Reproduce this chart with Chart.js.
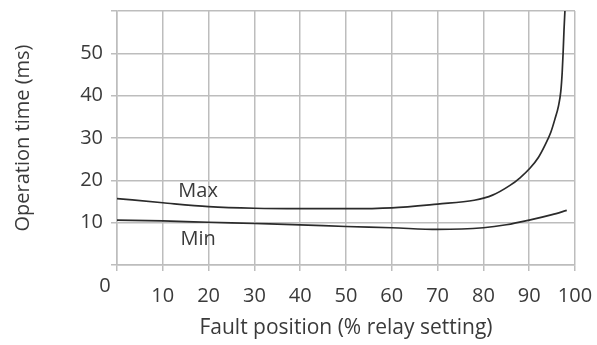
<!DOCTYPE html>
<html>
<head>
<meta charset="utf-8">
<script src="https://cdn.jsdelivr.net/npm/chart.js@4"></script>
<style>
  html, body { margin: 0; padding: 0; background: #ffffff; }
  #wrap { width: 597px; height: 345px; }
</style>
</head>
<body>
<div id="wrap"><canvas id="c" width="597" height="345"></canvas></div>
<script>
// ---- data ----
const maxX = [0, 10, 20, 30, 40, 50, 60, 70, 78, 82, 85.8, 88, 90.2, 92, 93.4, 94.7, 95.6, 96.4, 96.9, 97.2, 97.4, 97.6, 97.8];
const maxY = [15.7, 14.7, 13.8, 13.4, 13.3, 13.3, 13.5, 14.4, 15.3, 16.5, 18.8, 20.6, 22.9, 25.4, 28.2, 31.3, 34.4, 37.6, 41.0, 45.4, 50, 55.5, 60];
const minX = [0, 10, 20, 30, 40, 50, 60, 70, 80, 85, 90, 95, 98.2];
const minY = [10.6, 10.4, 10.1, 9.8, 9.5, 9.1, 8.8, 8.4, 8.8, 9.5, 10.6, 11.9, 12.9];
const seriesNames = ['Max', 'Min'];
const xTickValues = [0, 10, 20, 30, 40, 50, 60, 70, 80, 90, 100];
const yTickValues = [0, 10, 20, 30, 40, 50, 60];
const xTitle = 'Fault position (% relay setting)';
const yTitle = 'Operation time (ms)';
const cornerLabel = '0';
const annotations = [
  { text: 'Max', x: 17.7, y: 17.4 },
  { text: 'Min', x: 17.7, y: 6.1 }
];

const FONT = '"Open Sans", "DejaVu Sans", sans-serif';
const TEXT = '#3a3a3a';
const GRID = '#bdbdbd';
const LINE = '#2b2b2b';

const toPts = (xs, ys) => xs.map((x, i) => ({ x: x, y: ys[i] }));

const extraText = {
  id: 'extraText',
  afterDraw(chart) {
    const ctx = chart.ctx;
    const xs = chart.scales.x, ys = chart.scales.y;
    ctx.save();
    ctx.fillStyle = TEXT;
    ctx.font = '20px ' + FONT;
    ctx.textAlign = 'center';
    ctx.textBaseline = 'middle';
    ctx.fillText(cornerLabel, xs.getPixelForValue(0) - 12, ys.getPixelForValue(0) + 21);
    annotations.forEach(a => {
      ctx.fillText(a.text, xs.getPixelForValue(a.x), ys.getPixelForValue(a.y));
    });
    ctx.restore();
  }
};

const zeroPad = s => { s.paddingTop = 0; s.paddingBottom = 0; s.paddingLeft = 0; s.paddingRight = 0; };

new Chart(document.getElementById('c'), {
  type: 'line',
  data: {
    datasets: [
      { label: seriesNames[0], data: toPts(maxX, maxY), borderColor: LINE, borderWidth: 1.7,
        pointRadius: 0, cubicInterpolationMode: 'monotone', fill: false },
      { label: seriesNames[1], data: toPts(minX, minY), borderColor: LINE, borderWidth: 1.7,
        pointRadius: 0, cubicInterpolationMode: 'monotone', fill: false }
    ]
  },
  options: {
    responsive: false,
    devicePixelRatio: 1,
    animation: false,
    layout: { padding: { top: 11, right: 22, left: 0, bottom: 0 } },
    plugins: { legend: { display: false }, tooltip: { enabled: false } },
    scales: {
      x: {
        type: 'linear', min: 0, max: 100,
        afterBuildTicks: s => { s.ticks = xTickValues.map(v => ({ value: v })); },
        ticks: {
          callback: v => (v === 0 ? '' : String(v)),
          color: TEXT, font: { family: FONT, size: 20 }, padding: 13, maxRotation: 0, autoSkip: false
        },
        grid: { color: GRID, lineWidth: 1.5, tickLength: 6 },
        border: { display: true, color: GRID, width: 1.5 },
        title: { display: true, text: xTitle, color: TEXT, font: { family: FONT, size: 21 },
                 padding: { top: 2, bottom: 4 } },
        afterFit: s => { s.height = 80; zeroPad(s); }
      },
      y: {
        type: 'linear', min: 0, max: 60,
        afterBuildTicks: s => { s.ticks = yTickValues.map(v => ({ value: v })); },
        ticks: {
          callback: v => ((v === 0 || v === 60) ? '' : String(v)),
          color: TEXT, font: { family: FONT, size: 20 }, padding: 8, autoSkip: false
        },
        grid: { color: GRID, lineWidth: 1.5, tickLength: 6 },
        border: { display: true, color: GRID, width: 1.5 },
        title: { display: true, text: yTitle, color: TEXT, font: { family: FONT, size: 20 },
                 padding: { top: 11, bottom: 0 } },
        afterFit: s => { s.width = 117; zeroPad(s); }
      }
    }
  },
  plugins: [extraText]
});
</script>
</body>
</html>
